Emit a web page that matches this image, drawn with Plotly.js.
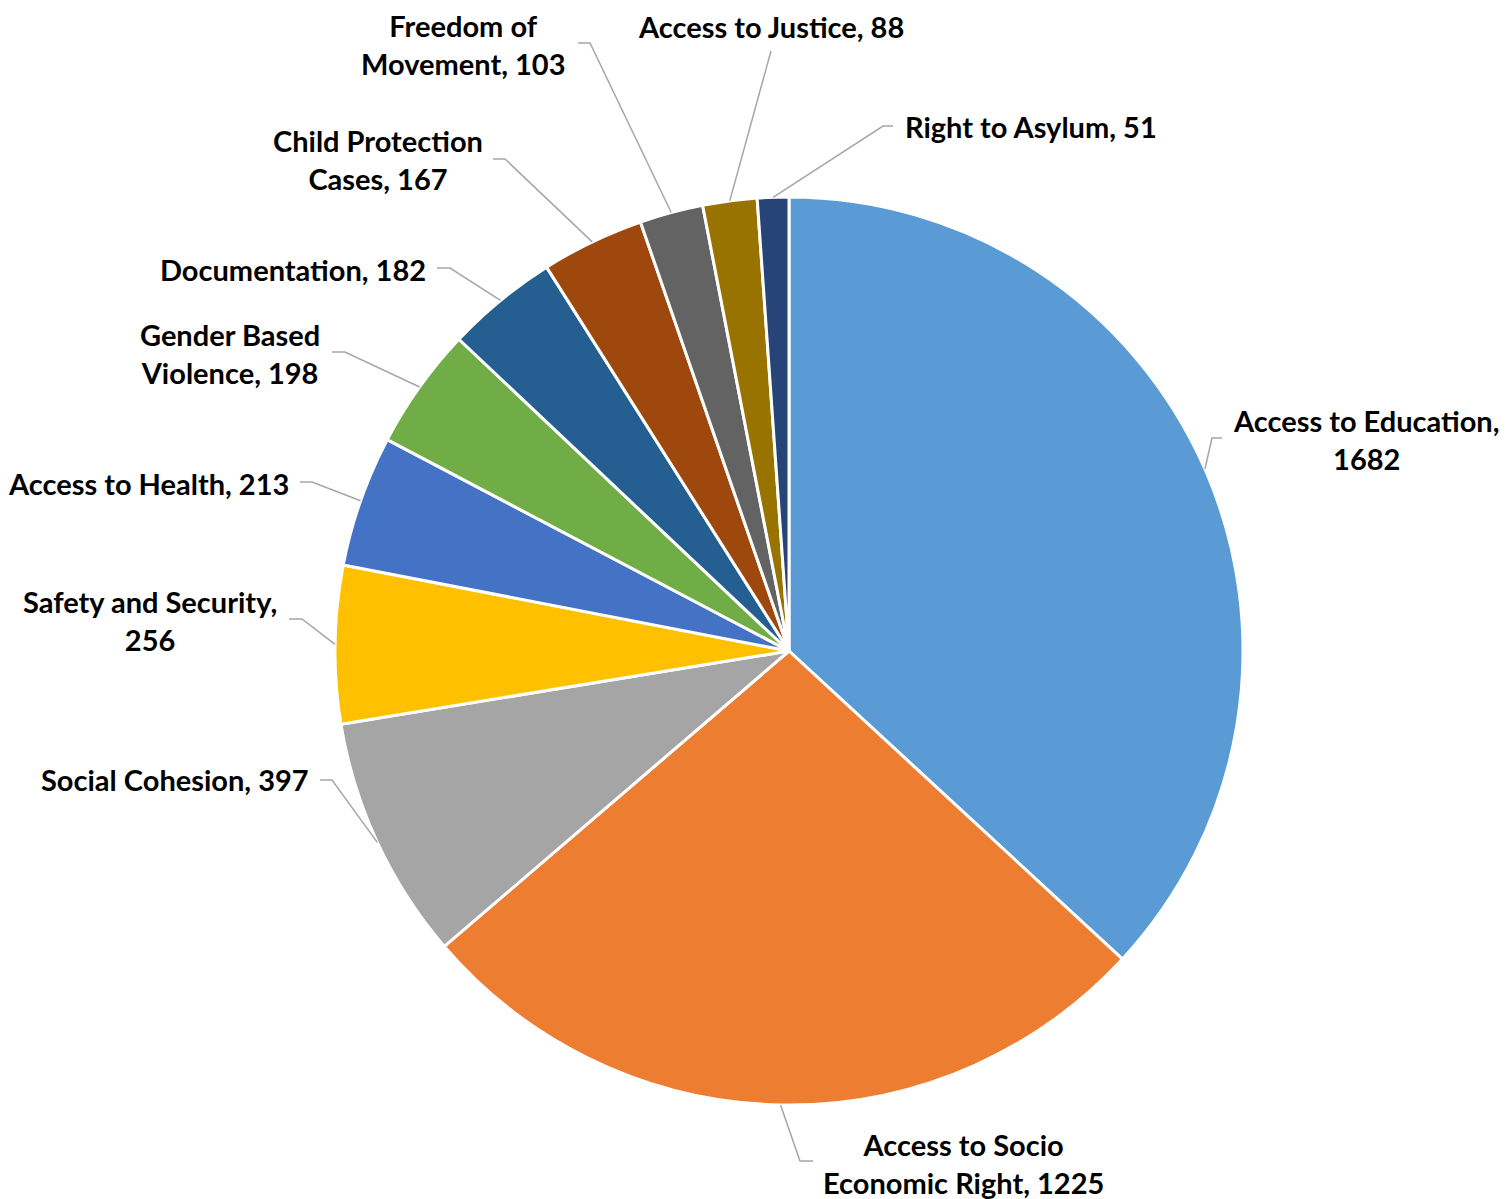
<!DOCTYPE html>
<html>
<head>
<meta charset="utf-8">
<script src="https://cdn.plot.ly/plotly-3.0.1.min.js"></script>
<style>html,body{margin:0;padding:0;background:#fff;}#chart{width:1506px;height:1199px;}</style>
</head>
<body>
<div id="chart"></div>
<script>
// ---- data ----
const categories = ["Access to Education", "Access to Socio Economic Right", "Social Cohesion",
  "Safety and Security", "Access to Health", "Gender Based Violence", "Documentation",
  "Child Protection Cases", "Freedom of Movement", "Access to Justice", "Right to Asylum"];
const values = [1682, 1225, 397, 256, 213, 198, 182, 167, 103, 88, 51];
// label text with line breaks as in the reference (category, value)
const labelLines = [
  ["Access to Education,", "{v}"],
  ["Access to Socio", "Economic Right, {v}"],
  ["Social Cohesion, {v}"],
  ["Safety and Security,", "{v}"],
  ["Access to Health, {v}"],
  ["Gender Based", "Violence, {v}"],
  ["Documentation, {v}"],
  ["Child Protection", "Cases, {v}"],
  ["Freedom of", "Movement, {v}"],
  ["Access to Justice, {v}"],
  ["Right to Asylum, {v}"]
];

// ---- styles / layout ----
const colors = ["#5B9BD5", "#ED7D31", "#A5A5A5", "#FFC000", "#4472C4", "#70AD47",
  "#255E91", "#9E480E", "#636363", "#997300", "#264478"];
const W = 1506, H = 1199;
const CX = 789, CY = 651, R = 454;
// label placement (pixels): text x, text y (middle), xanchor, elbow point, stub end
const labelLayout = [
  {tx: 1366, ty: 439, xa: "center", elbow: [1212, 438], stub: [1222, 438]},
  {tx: 963, ty: 1163, xa: "center", elbow: [800, 1161], stub: [813, 1161]},
  {tx: 311, ty: 779, xa: "right", elbow: [332, 780], stub: [320, 780]},
  {tx: 150, ty: 620, xa: "center", elbow: [302, 619], stub: [289, 619]},
  {tx: 291, ty: 483, xa: "right", elbow: [312, 482], stub: [300, 482]},
  {tx: 230, ty: 354, xa: "center", elbow: [345, 352], stub: [332, 352]},
  {tx: 428, ty: 269, xa: "right", elbow: [450, 268], stub: [437, 268]},
  {tx: 378, ty: 160, xa: "center", elbow: [505, 159], stub: [493, 159]},
  {tx: 463, ty: 44, xa: "center", elbow: [590, 43], stub: [578, 43]},
  {tx: 771, ty: 27, xa: "center", elbow: [771, 51], stub: [771, 51]},
  {tx: 903, ty: 126, xa: "left", elbow: [883, 126], stub: [893, 126]}
];

const px = x => x / W;
const py = y => 1 - y / H;

const total = values.reduce((a, b) => a + b, 0);
let cum = 0;
const shapes = [];
const annotations = [];
values.forEach((v, i) => {
  const mid = (cum + v / 2) / total;
  cum += v;
  const ang = mid * 2 * Math.PI; // clockwise from 12 o'clock
  const ex = CX + R * Math.sin(ang);
  const ey = CY - R * Math.cos(ang);
  const L = labelLayout[i];
  shapes.push({
    type: "path", xref: "paper", yref: "paper",
    path: `M ${px(ex)} ${py(ey)} L ${px(L.elbow[0])} ${py(L.elbow[1])} L ${px(L.stub[0])} ${py(L.stub[1])}`,
    line: {color: "#A6A6A6", width: 1.5}
  });
  const txt = labelLines[i].map(s => s.replace("{v}", v)).join("<br>");
  annotations.push({
    xref: "paper", yref: "paper", x: px(L.tx), y: py(L.ty),
    xanchor: L.xa, yanchor: "middle", align: "center",
    text: "<b>" + txt + "</b>", showarrow: false,
    font: {family: "Lato, 'Open Sans', sans-serif", size: 29, color: "#000000"}
  });
});

const trace = {
  type: "pie",
  labels: categories,
  values: values,
  sort: false,
  direction: "clockwise",
  rotation: 0,
  textinfo: "none",
  hoverinfo: "label+value",
  marker: {colors: colors, line: {color: "#FFFFFF", width: 3}},
  domain: {x: [(CX - R) / W, (CX + R) / W], y: [1 - (CY + R) / H, 1 - (CY - R) / H]},
  showlegend: false
};

Plotly.newPlot("chart", [trace], {
  width: W, height: H,
  margin: {l: 0, r: 0, t: 0, b: 0},
  paper_bgcolor: "#FFFFFF",
  showlegend: false,
  shapes: shapes,
  annotations: annotations
}, {displayModeBar: false, staticPlot: true});
</script>
</body>
</html>
